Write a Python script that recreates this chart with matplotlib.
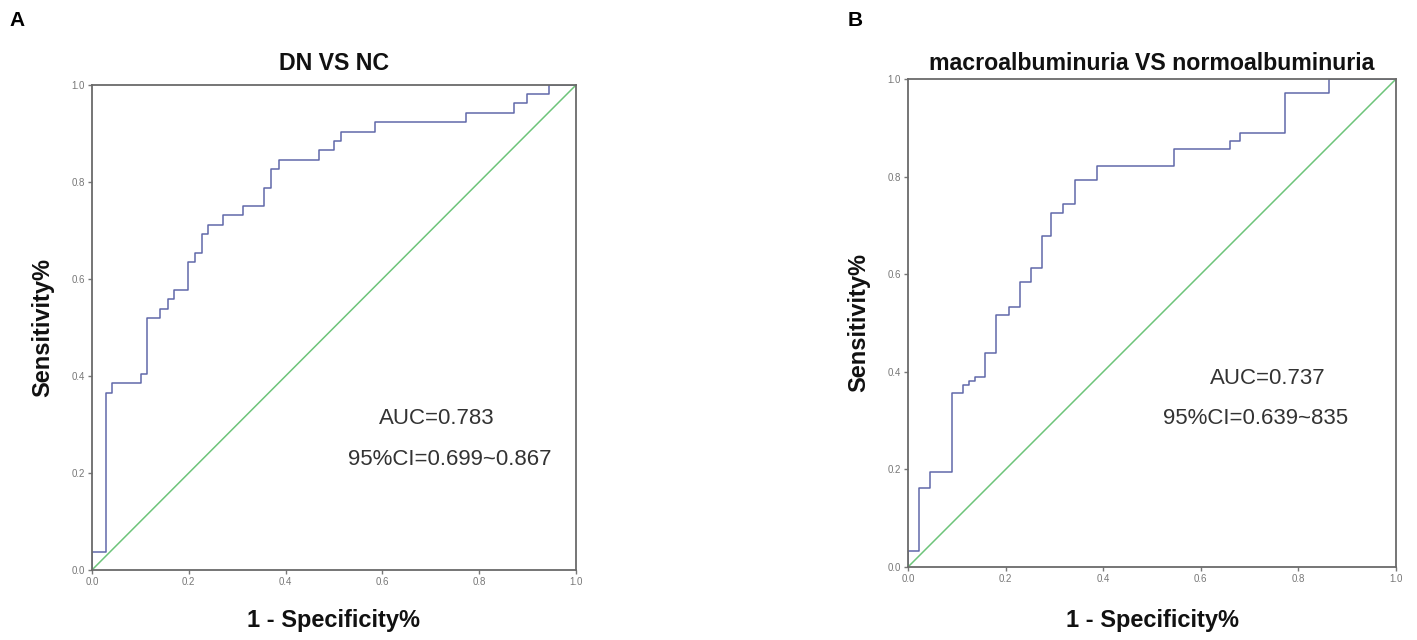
import numpy as np
from matplotlib import pyplot as plt

plt.rcParams['font.family'] = ['Liberation Sans', 'DejaVu Sans']

# ROC step data: fpr where the curve rises, tpr level after the rise
fpr_a = [0, 0, 0.028, 0.041, 0.101, 0.113, 0.140, 0.158, 0.170, 0.199, 0.213,
         0.227, 0.240, 0.271, 0.313, 0.356, 0.370, 0.386, 0.470, 0.499, 0.514,
         0.585, 0.773, 0.872, 0.899, 0.944, 1.0]
tpr_a = [0, 0.038, 0.365, 0.385, 0.404, 0.519, 0.538, 0.558, 0.577, 0.635, 0.654,
         0.692, 0.712, 0.731, 0.750, 0.788, 0.827, 0.846, 0.865, 0.885, 0.904,
         0.923, 0.942, 0.962, 0.981, 1.0, 1.0]

fpr_b = [0, 0, 0.023, 0.045, 0.091, 0.113, 0.124, 0.138, 0.158, 0.180, 0.206,
         0.230, 0.253, 0.274, 0.294, 0.318, 0.342, 0.387, 0.546, 0.660, 0.680,
         0.773, 0.863, 1.0]
tpr_b = [0, 0.033, 0.161, 0.195, 0.356, 0.372, 0.381, 0.389, 0.438, 0.516, 0.533,
         0.583, 0.612, 0.679, 0.726, 0.743, 0.792, 0.822, 0.857, 0.872, 0.889,
         0.971, 1.0, 1.0]

titles = ["DN VS NC", "macroalbuminuria VS normoalbuminuria"]
auc_txt = ["AUC=0.783", "AUC=0.737"]
ci_txt = ["95%CI=0.699~0.867", "95%CI=0.639~835"]
ticks = [0.0, 0.2, 0.4, 0.6, 0.8, 1.0]

fig = plt.figure(figsize=(14.17, 6.4), dpi=100)
ax_a = fig.add_axes([0.0649, 0.1094, 0.3416, 0.7578])
ax_b = fig.add_axes([0.6408, 0.1141, 0.3444, 0.7625])

panels = [(ax_a, fpr_a, tpr_a, (0.593, 0.313), (0.529, 0.227)),
          (ax_b, fpr_b, tpr_b, (0.619, 0.387), (0.523, 0.305))]

for i, (ax, fpr, tpr, p_auc, p_ci) in enumerate(panels):
    ax.step(fpr, tpr, where='post', color='#6068aa', lw=1.1)
    ax.plot([0, 1], [0, 1], color='#6dc47a', lw=1.1)
    ax.set_xlim(0, 1)
    ax.set_ylim(0, 1)
    ax.set_xticks(ticks)
    ax.set_yticks(ticks)
    ax.set_xticklabels([f"{t:.1f}" for t in ticks])
    ax.set_yticklabels([f"{t:.1f}" for t in ticks])
    ax.tick_params(direction='out', length=3, width=1, colors='#777777',
                   labelsize=7, pad=2)
    for s in ax.spines.values():
        s.set_color('#6a6a6a')
        s.set_linewidth(1.3)
    ax.text(p_auc[0], p_auc[1], auc_txt[i], fontsize=16, color='#333333',
            va='center', ha='left')
    ax.text(p_ci[0], p_ci[1], ci_txt[i], fontsize=16, color='#333333',
            va='center', ha='left')
    pos = ax.get_position()
    cx = (pos.x0 + pos.x1) / 2
    fig.text(cx, 0.90, titles[i], fontsize=16.7, fontweight='bold',
             ha='center', va='center', color='#111111')
    fig.text(cx, 0.031, "1 - Specificity%", fontsize=17, fontweight='bold',
             ha='center', va='center', color='#111111')
    fig.text(pos.x0 - 0.035, (pos.y0 + pos.y1) / 2, "Sensitivity%", fontsize=17,
             fontweight='bold', rotation=90, ha='center', va='center',
             color='#111111')

fig.text(0.007, 0.983, "A", fontsize=15, fontweight='bold', ha='left', va='top')
fig.text(0.598, 0.983, "B", fontsize=15, fontweight='bold', ha='left', va='top')

fig.savefig("out.png", dpi=100)
